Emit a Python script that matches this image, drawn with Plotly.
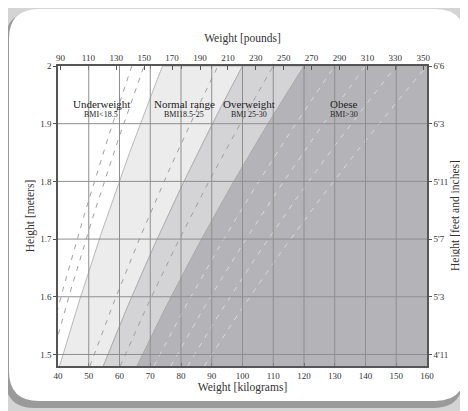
import numpy as np
import plotly.graph_objects as go

# ---------------- data ----------------
categories = ["Underweight", "Normal range", "Overweight", "Obese"]
category_bmi_text = ["BMI<18.5", "BMI18.5-25", "BMI 25-30", "BMI>30"]
category_cutoffs = [18.5, 25, 30]                 # principal BMI cut-offs (solid boundaries)
dashed_cutoffs = [16, 17, 23, 27.5, 32.5, 35, 37.5, 40]   # additional cut-offs (dashed)

kg_ticks = [40, 50, 60, 70, 80, 90, 100, 110, 120, 130, 140, 150, 160]
lb_ticks = [90, 110, 130, 150, 170, 190, 210, 230, 250, 270, 290, 310, 330, 350]
m_ticks = [1.5, 1.6, 1.7, 1.8, 1.9, 2.0]
m_ticktext = ["1.5", "1.6", "1.7", "1.8", "1.9", "2"]
ftin_ticktext = ["4'11", "5'3", "5'7", "5'11", "6'3", "6'6"]

# ---------------- style / layout ----------------
KG_RANGE = [40, 160]
M_RANGE = [1.48, 2.0]
LB_PER_KG = 2.20462
region_colors = ["#ffffff", "#ececec", "#d4d4d7", "#b4b4b8"]
label_kg = [54, 81, 102, 133]
label_h = 1.935
sub_h = 1.916
FONT = "Liberation Serif"
TXT = "#333333"
# the page body adds an 8px offset, so the figure is 8px smaller
W, H = 460, 403
ML, MR, MT, MB = 50, 41, 58, 45

h = np.linspace(M_RANGE[0], M_RANGE[1], 60)

fig = go.Figure()

# region fills
bounds = [None] + category_cutoffs + [None]
for i in range(len(categories)):
    lo, hi = bounds[i], bounds[i + 1]
    if lo is None:
        continue
    x_lo = lo * h ** 2
    x_hi = hi * h ** 2 if hi is not None else np.full_like(h, KG_RANGE[1] + 5)
    xs = np.concatenate([x_lo, x_hi[::-1]])
    ys = np.concatenate([h, h[::-1]])
    fig.add_trace(go.Scatter(x=xs, y=ys, fill="toself", fillcolor=region_colors[i],
                             mode="lines", line=dict(color="#a8a8a8", width=0.8),
                             hoverinfo="skip", showlegend=False))

# dashed lines
for b in dashed_cutoffs:
    col = "#dadada" if b > category_cutoffs[-1] else "#a0a0a0"
    fig.add_trace(go.Scatter(x=b * h ** 2, y=h, mode="lines",
                             line=dict(color=col, width=1, dash="5px,6px"),
                             hoverinfo="skip", showlegend=False))

# invisible trace to activate the secondary axes
fig.add_trace(go.Scatter(x=lb_ticks, y=[m_ticks[0]] * len(lb_ticks), xaxis="x2", yaxis="y2",
                         mode="markers", marker=dict(opacity=0), hoverinfo="skip",
                         showlegend=False))

shapes = []


def px2paper(px, py):
    return (px - ML) / (W - ML - MR), (H - MB - py) / (H - MT - MB)


def rounded_path(x0, y0, x1, y1, r):
    def p(px, py):
        a, b = px2paper(px, py)
        return f"{a:.4f},{b:.4f}"
    return (f"M{p(x0 + r, y0)} L{p(x1 - r, y0)} Q{p(x1, y0)} {p(x1, y0 + r)} "
            f"L{p(x1, y1 - r)} Q{p(x1, y1)} {p(x1 - r, y1)} "
            f"L{p(x0 + r, y1)} Q{p(x0, y1)} {p(x0, y1 - r)} "
            f"L{p(x0, y0 + r)} Q{p(x0, y0)} {p(x0 + r, y0)} Z")


# card and its shadow
shapes.append(dict(type="path", xref="paper", yref="paper", layer="below",
                   path=rounded_path(-3, 4, 455, 400, 30), fillcolor="#9a9a9a", line=dict(width=0)))
shapes.append(dict(type="path", xref="paper", yref="paper", layer="below",
                   path=rounded_path(1, 1, 457, 393, 30), fillcolor="#ffffff", line=dict(width=0)))

# gridlines above the fills
for k in kg_ticks[1:-1]:
    shapes.append(dict(type="line", xref="x", yref="paper", x0=k, x1=k, y0=0, y1=1,
                       layer="above", line=dict(color="#8e8e8e", width=1)))
for m in m_ticks[:-1]:
    shapes.append(dict(type="line", xref="paper", yref="y", x0=0, x1=1, y0=m, y1=m,
                       layer="above", line=dict(color="#8e8e8e", width=1)))

annotations = []
for name, sub, xk in zip(categories, category_bmi_text, label_kg):
    annotations.append(dict(x=xk, y=label_h, xref="x", yref="y", text=name, showarrow=False,
                            font=dict(family=FONT, size=11, color="#222")))
    annotations.append(dict(x=xk, y=sub_h, xref="x", yref="y", text=sub, showarrow=False,
                            font=dict(family=FONT, size=8, color="#222")))

# right-hand axis title
rx, _ = px2paper(447, 0)
annotations.append(dict(x=rx, y=0.5, xref="paper", yref="paper", text="Height [feet and inches]",
                        textangle=-90, showarrow=False, xanchor="center", yanchor="middle",
                        font=dict(family=FONT, size=11.5, color=TXT)))

axis_common = dict(showline=True, linecolor="#555555", linewidth=1.5, showgrid=False,
                   zeroline=False, tickcolor="#555555",
                   tickfont=dict(family=FONT, size=9, color=TXT))

fig.update_layout(
    width=W, height=H,
    margin=dict(l=ML, r=MR, t=MT, b=MB),
    paper_bgcolor="#d4d4d4",
    plot_bgcolor="#ffffff",
    shapes=shapes,
    annotations=annotations,
    xaxis=dict(range=KG_RANGE, tickvals=kg_ticks, ticks="inside", ticklen=3, mirror="ticks",
               title=dict(text="Weight [kilograms]", standoff=0,
                          font=dict(family=FONT, size=11.5, color=TXT)), **axis_common),
    yaxis=dict(range=M_RANGE, tickvals=m_ticks, ticktext=m_ticktext, ticks="outside", ticklen=3,
               title=dict(text="Height [meters]", standoff=3,
                          font=dict(family=FONT, size=11.5, color=TXT)), **axis_common),
    xaxis2=dict(overlaying="x", side="top", range=[KG_RANGE[0] * LB_PER_KG, KG_RANGE[1] * LB_PER_KG],
                tickvals=lb_ticks, ticks="inside", ticklen=4,
                title=dict(text="Weight [pounds]", standoff=8,
                           font=dict(family=FONT, size=11.5, color=TXT)), **axis_common),
    yaxis2=dict(overlaying="y", side="right", range=M_RANGE, tickvals=m_ticks,
                ticktext=ftin_ticktext, ticks="outside", ticklen=3, **axis_common),
)

fig.write_html("out.html")
